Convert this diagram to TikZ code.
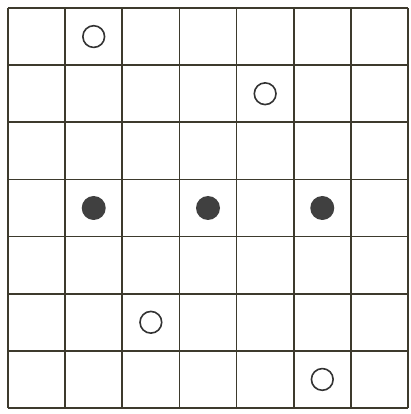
\documentclass[tikz,border=0pt]{standalone}
\usepackage{tikz}

\begin{document}
\begin{tikzpicture}[
        gridline/.style={draw=black!75!olive, line width=0.9pt},
        opendot/.style={circle, draw=black!80, line width=0.8pt, fill=white, minimum size=0.38cm, inner sep=0pt},
        fulldot/.style={circle, fill=black!75, minimum size=0.42cm, inner sep=0pt}
    ]
        \useasboundingbox (-0.14,-0.105) rectangle (7.035,7.14);
        \foreach \i in {0,...,7} {
            \draw[gridline] (\i,0) -- (\i,7);
            \draw[gridline] (0,\i) -- (7,\i);
        }

        \node[opendot] (a) at (1.5,6.5) {};
        \node[opendot] (b) at (4.5,5.5) {};
        \node[fulldot] (p) at (1.5,3.5) {};
        \node[fulldot] (q) at (3.5,3.5) {};
        \node[fulldot] (r) at (5.5,3.5) {};
        \node[opendot] (c) at (2.5,1.5) {};
        \node[opendot] (d) at (5.5,0.5) {};
    \end{tikzpicture}
\end{document}
